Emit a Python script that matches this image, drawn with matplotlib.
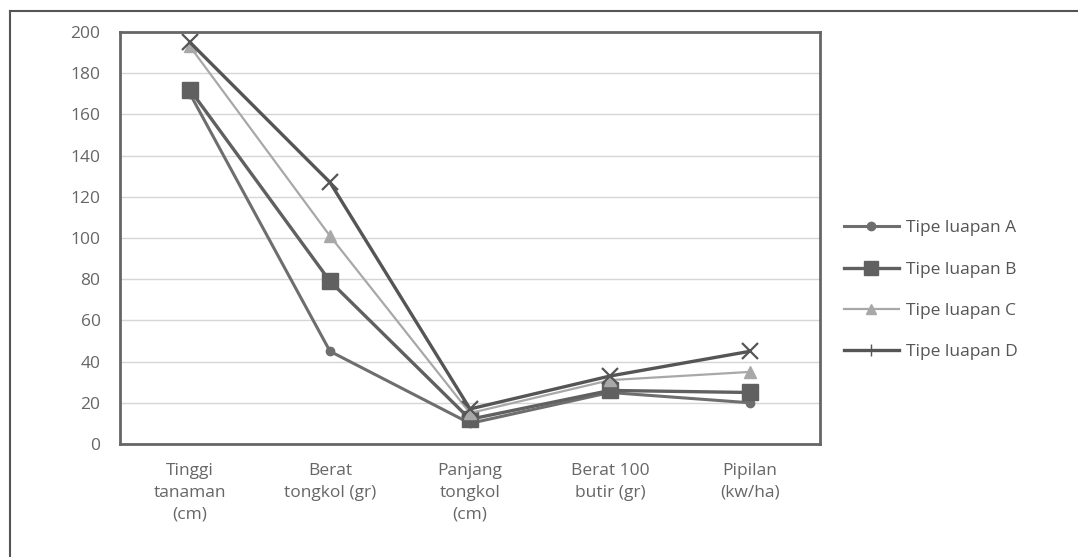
import numpy as np
import matplotlib
matplotlib.use("Agg")
import matplotlib.pyplot as plt
from matplotlib.lines import Line2D

# =====================================
# DATA
# =====================================
categories = [
    "Tinggi\ntanaman\n(cm)",
    "Berat\ntongkol (gr)",
    "Panjang\ntongkol\n(cm)",
    "Berat 100\nbutir (gr)",
    "Pipilan\n(kw/ha)",
]

tipe_a = [170, 45, 10, 25, 20]
tipe_b = [172, 79, 12, 26, 25]
tipe_c = [193, 101, 15, 31, 35]
tipe_d = [195, 127, 17, 33, 45]

series_names = ["Tipe luapan A", "Tipe luapan B", "Tipe luapan C", "Tipe luapan D"]

# =====================================
# FIGURE
# =====================================
plt.rcParams["font.family"] = ["Open Sans", "DejaVu Sans"]

fig = plt.figure(figsize=(10.78, 5.57), dpi=100)
ax = fig.add_axes([0.1113, 0.2029, 0.6494, 0.7396])

x = np.arange(len(categories))

ax.plot(x, tipe_a, color="#6e6e6e", linewidth=2.2, marker="o",
        markersize=6, label=series_names[0])
ax.plot(x, tipe_b, color="#606060", linewidth=2.4, marker="s",
        markersize=12, label=series_names[1])
ax.plot(x, tipe_c, color="#a8a8a8", linewidth=1.6, marker="^",
        markersize=9, label=series_names[2])
ax.plot(x, tipe_d, color="#555555", linewidth=2.4, marker="x",
        markersize=12, markeredgewidth=1.6, label=series_names[3])

ax.set_xlim(-0.5, len(categories) - 0.5)
ax.set_ylim(0, 200)
ax.set_yticks(range(0, 201, 20))
ax.set_xticks(x)
ax.set_xticklabels(categories, fontsize=12.5, color="#666666",
                   linespacing=1.45)
ax.tick_params(axis="y", labelsize=12.5, colors="#666666", length=0, pad=14)
ax.tick_params(axis="x", length=0, pad=14)

ax.grid(axis="y", color="#d6d6d6", linewidth=1)
ax.set_axisbelow(True)
for side in ["left", "bottom", "top", "right"]:
    ax.spines[side].set_color("#666666")
    ax.spines[side].set_linewidth(2)

# =====================================
# LEGEND
# =====================================
handles = [
    Line2D([0], [0], color="#6e6e6e", linewidth=2.2, marker="o", markersize=6),
    Line2D([0], [0], color="#606060", linewidth=2.4, marker="s", markersize=10),
    Line2D([0], [0], color="#a8a8a8", linewidth=1.6, marker="^", markersize=7),
    Line2D([0], [0], color="#555555", linewidth=2.4, marker="+", markersize=9),
]
fig.legend(handles, series_names, loc="center left",
           bbox_to_anchor=(0.768, 0.479), frameon=False,
           fontsize=12.5, labelcolor="#555555", handlelength=3.2,
           labelspacing=1.45, handletextpad=0.4)

# =====================================
# OUTER FRAME
# =====================================
fig.add_artist(Line2D([0.009, 1.0], [0.98, 0.98], color="#555555",
                      linewidth=1.5, transform=fig.transFigure))
fig.add_artist(Line2D([0.009, 0.009], [0.0, 0.98], color="#555555",
                      linewidth=1.5, transform=fig.transFigure))

fig.savefig("out.png", dpi=100)
